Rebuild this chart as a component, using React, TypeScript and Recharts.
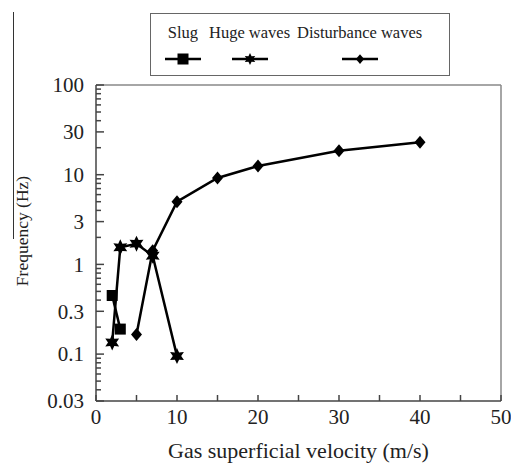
import React from 'react'
import { LineChart, Line, XAxis, YAxis, ReferenceLine } from 'recharts'

// values
const seriesNames = ['Slug', 'Huge waves', 'Disturbance waves']

const slugX = [2, 3]
const slugY = [0.45, 0.19]

const hugeX = [2, 3, 5, 7, 10]
const hugeY = [0.135, 1.55, 1.7, 1.25, 0.095]

const distX = [5, 7, 10, 15, 20, 30, 40]
const distY = [0.165, 1.42, 5.0, 9.2, 12.5, 18.5, 23]

const xTicks = [0, 5, 10, 15, 20, 25, 30, 35, 40, 45, 50]
const xLabelled = [0, 10, 20, 30, 40, 50]
const yLabelled = [0.03, 0.1, 0.3, 1, 3, 10, 30, 100]
const decades = [0.01, 0.1, 1, 10]

// minor log ticks 2..9 in every decade, clipped to the axis range
const yTicks: number[] = []
decades.forEach((d) => {
  for (let m = 1; m <= 9; m++) {
    const v = +(d * m).toPrecision(3)
    if (v >= 0.03 && v <= 100) yTicks.push(v)
  }
})
yTicks.push(100)

const toPoints = (xs: number[], ys: number[]) => xs.map((x, i) => ({ x, y: ys[i] }))
const slugData = toPoints(slugX, slugY)
const hugeData = toPoints(hugeX, hugeY)
const distData = toPoints(distX, distY)

const FONT = 'Liberation Serif, DejaVu Serif, Noto Serif, serif'
const AXIS = '#444'

function starPath(cx: number, cy: number, ro: number, ri: number) {
  const pts: string[] = []
  for (let i = 0; i < 12; i++) {
    const r = i % 2 === 0 ? ro : ri
    const a = (Math.PI / 6) * i - Math.PI / 2
    pts.push(`${cx + r * Math.cos(a)},${cy + r * Math.sin(a)}`)
  }
  return `M${pts.join('L')}Z`
}

function Marker({ kind, cx, cy, scale = 1 }: { kind: number; cx: number; cy: number; scale?: number }) {
  if (kind === 0) {
    const s = 5.5 * scale
    return <rect x={cx - s} y={cy - s} width={2 * s} height={2 * s} fill="#000" />
  }
  if (kind === 1) {
    return <path d={starPath(cx, cy, 8 * scale, 4.2 * scale)} fill="#000" />
  }
  const w = 5.5 * scale
  const h = 6.5 * scale
  return <path d={`M${cx},${cy - h}L${cx + w},${cy}L${cx},${cy + h}L${cx - w},${cy}Z`} fill="#000" />
}

const makeDot = (kind: number) => (props: any) => (
  <Marker key={`d${kind}-${props.index}`} kind={kind} cx={props.cx} cy={props.cy} />
)

function YTick({ x, y, payload }: any) {
  const v = payload.value
  const major = yLabelled.some((t) => Math.abs(t - v) < 1e-9)
  return (
    <g>
      <line x1={x} x2={x + (major ? 8 : 5)} y1={y} y2={y} stroke={AXIS} strokeWidth={1.5} />
      {major && (
        <text x={x - 12} y={y} dy="0.35em" textAnchor="end" fontSize={21} fontFamily={FONT} fill="#222">
          {v}
        </text>
      )}
    </g>
  )
}

function XTick({ x, y, payload }: any) {
  const v = payload.value
  const major = xLabelled.includes(v)
  return (
    <g>
      <line x1={x} x2={x} y1={y} y2={y - 6} stroke={AXIS} strokeWidth={1.5} />
      {major && (
        <text x={x} y={y + 23} textAnchor="middle" fontSize={21} fontFamily={FONT} fill="#222">
          {v}
        </text>
      )}
    </g>
  )
}

function YLabel({ viewBox }: any) {
  const cx = viewBox.x + 6
  const cy = viewBox.y + viewBox.height / 2 - 12
  return (
    <text x={cx} y={cy} transform={`rotate(-90 ${cx} ${cy})`} textAnchor="middle" dy="0.35em" fontSize={17.5} fontFamily={FONT} fill="#222">
      Frequency (Hz)
    </text>
  )
}

function LegendBox() {
  return (
    <div
      style={{
        position: 'absolute', left: 150, top: 13, width: 285, height: 61,
        border: '1.5px solid #666', display: 'flex', gap: 7, paddingLeft: 13,
        boxSizing: 'content-box', fontFamily: FONT, fontSize: 16.5, color: '#222',
      }}
    >
      {seriesNames.map((name, i) => (
        <div key={name} style={{ display: 'flex', flexDirection: 'column', alignItems: 'center', paddingTop: 8 }}>
          <span style={{ whiteSpace: 'nowrap', lineHeight: '22px' }}>{name}</span>
          <svg width={38} height={18} style={{ marginTop: 6 }}>
            <line x1={1} x2={37} y1={9} y2={9} stroke="#000" strokeWidth={2.5} />
            <Marker kind={i} cx={19} cy={9} scale={i === 0 ? 1 : 0.75} />
          </svg>
        </div>
      ))}
    </div>
  )
}

export default function App() {
  return (
    <div style={{ position: 'absolute', left: 0, top: 0, width: 511, height: 465, background: '#fff' }}>
      <div style={{ position: 'absolute', left: 13, top: 12, height: 227, borderLeft: '1px solid #333' }} />
      <LineChart width={511} height={465} margin={{ top: 85, right: 10, bottom: 0, left: 16 }}>
        <XAxis
          type="number"
          dataKey="x"
          domain={[0, 50]}
          ticks={xTicks}
          allowDataOverflow
          interval={0}
          height={64}
          tickSize={0}
          tickMargin={0}
          tickLine={false}
          axisLine={{ stroke: AXIS, strokeWidth: 1.5 }}
          tick={<XTick />}
          label={{ value: 'Gas superficial velocity (m/s)', position: 'insideBottom', offset: 7, fontSize: 22, fontFamily: FONT, fill: '#222' }}
        />
        <YAxis
          type="number"
          dataKey="y"
          scale="log"
          domain={[0.03, 100]}
          ticks={yTicks}
          allowDataOverflow
          interval={0}
          width={80}
          tickSize={0}
          tickMargin={0}
          tickLine={false}
          axisLine={{ stroke: AXIS, strokeWidth: 1.5 }}
          tick={<YTick />}
          label={<YLabel />}
        />
        <ReferenceLine y={100} stroke="#888" strokeWidth={1.5} />
        <ReferenceLine x={50} stroke="#888" strokeWidth={1.5} />
        <Line data={slugData} dataKey="y" stroke="#000" strokeWidth={2.5} dot={makeDot(0)} isAnimationActive={false} />
        <Line data={hugeData} dataKey="y" stroke="#000" strokeWidth={2.5} dot={makeDot(1)} isAnimationActive={false} />
        <Line data={distData} dataKey="y" stroke="#000" strokeWidth={2.5} dot={makeDot(2)} isAnimationActive={false} />
      </LineChart>
      <LegendBox />
    </div>
  )
}
